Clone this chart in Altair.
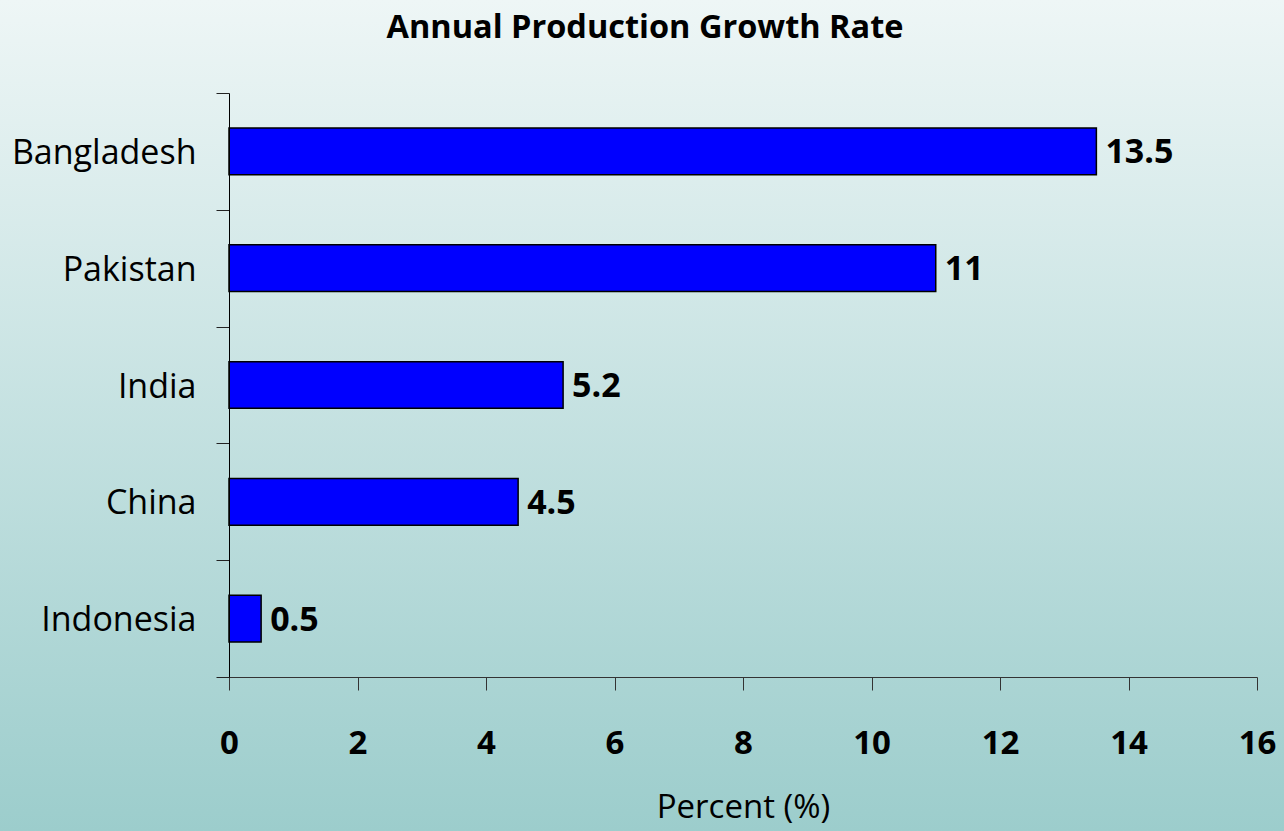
import altair as alt
import pandas as pd

countries = ["Bangladesh", "Pakistan", "India", "China", "Indonesia"]
growth = [13.5, 11, 5.2, 4.5, 0.5]
labels = ["13.5", "11", "5.2", "4.5", "0.5"]
chart_title = "Annual Production Growth Rate"
x_title = "Percent (%)"
x_ticks = [0, 2, 4, 6, 8, 10, 12, 14, 16]

W, H = 1028, 584
LEFT, TOP = 229, 93
FONT = "Open Sans"

df = pd.DataFrame({"country": countries, "value": growth, "label": labels})

bg = alt.Chart(pd.DataFrame({"a": [0]})).mark_rect(
    fill=alt.Gradient(
        gradient="linear",
        stops=[alt.GradientStop(color="#EEF6F6", offset=0),
               alt.GradientStop(color="#9CCDCC", offset=1)],
        x1=0, x2=0, y1=0, y2=1,
    ),
    clip=False,
).encode(
    x=alt.value(-LEFT), x2=alt.value(1284 - LEFT),
    y=alt.value(-TOP), y2=alt.value(831 - TOP),
)

ysc = alt.Scale(paddingInner=0, paddingOuter=0)

bars = alt.Chart(df).mark_bar(
    fill="#0000FF", stroke="#000000", strokeWidth=1.5, height={"band": 0.4}
).encode(
    x=alt.X("value:Q", scale=alt.Scale(domain=[0, 16], nice=False),
            axis=alt.Axis(values=x_ticks, title=x_title, grid=False, zindex=2, format="d",
                          labelFlush=False, labelOverlap=False,
                          tickSize=13, labelPadding=63, labelBaseline="alphabetic",
                          labelFontSize=33, labelFontWeight="bold", labelFont=FONT,
                          labelColor="#000000", domainColor="#333333", tickColor="#333333",
                          titleFont=FONT, titleFontSize=33, titleFontWeight="normal",
                          titleColor="#000000", titleBaseline="alphabetic", titleY=140)),
    y=alt.Y("country:N", sort=countries, scale=ysc,
            axis=alt.Axis(title=None, tickBand="extent", tickSize=13, labelPadding=20,
                          labelOffset=2, labelLimit=400,
                          labelFontSize=34, labelFont=FONT, labelColor="#000000", zindex=2,
                          domainColor="#000000", tickColor="#222222", grid=False)),
)

text = alt.Chart(df).mark_text(
    align="left", baseline="middle", dx=9, dy=2, font=FONT, fontSize=34,
    fontWeight="bold", color="#000000"
).encode(
    x="value:Q",
    y=alt.Y("country:N", sort=countries, scale=ysc),
    text="label:N",
)

title = alt.Chart(pd.DataFrame({"t": [chart_title]})).mark_text(
    align="center", baseline="alphabetic", font=FONT, fontSize=32.5,
    fontWeight="bold", color="#000000"
).encode(
    x=alt.value(645 - LEFT), y=alt.value(38 - TOP), text="t:N"
)

chart = alt.layer(bg, bars, text, title).properties(
    width=W, height=H, padding=0
).configure_view(stroke=None).configure(background="#9CCDCC")

chart.save("out.html", embed_options={"renderer": "svg", "actions": False})
